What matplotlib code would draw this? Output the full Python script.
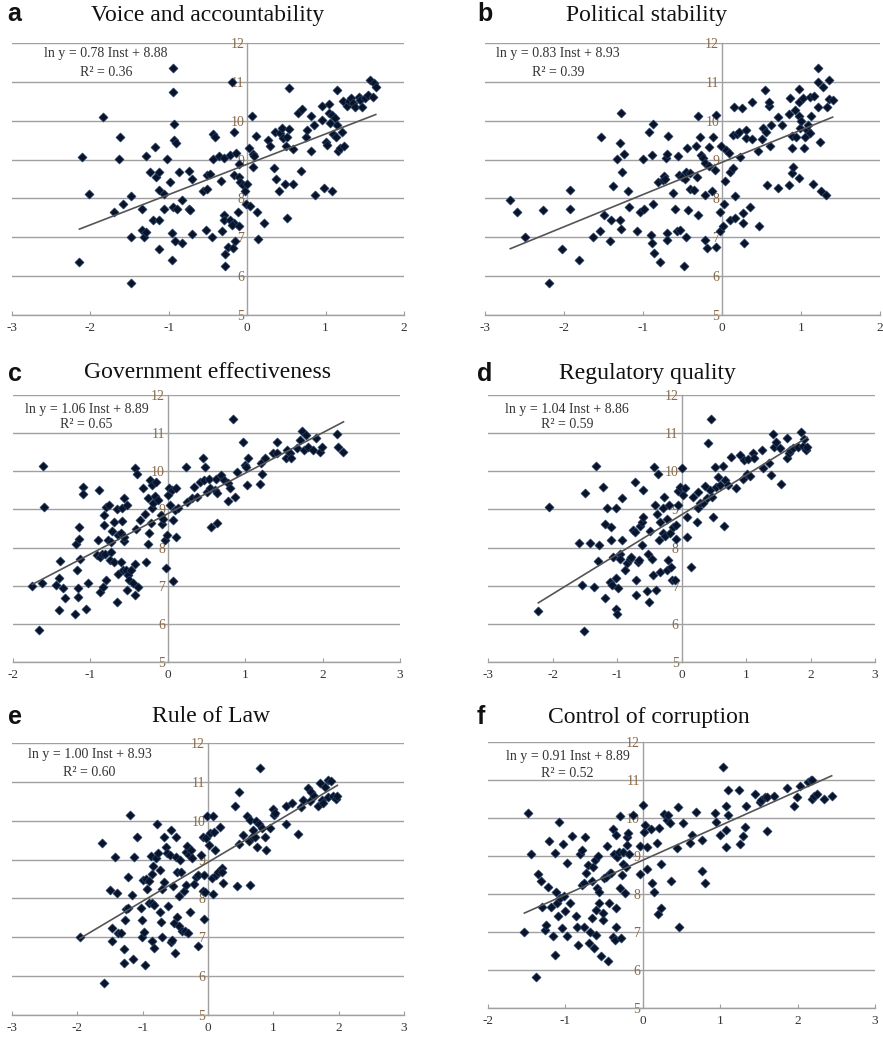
import matplotlib
matplotlib.use("Agg")
import matplotlib.pyplot as plt

plt.rcParams["axes.unicode_minus"] = False

# ---- data (Inst score, ln GDP per capita) ----
a_x = [-2.14, -2.11, -2.02, -1.84, -1.70, -1.62, -1.59, -1.63, -1.48, -1.48, -1.48, -1.34, -1.34, -1.32,
       -1.29, -1.29, -1.24, -1.20, -1.18, -1.16, -1.12, -1.12, -1.12, -1.12, -1.06, -1.06, -1.02, -0.98,
       -0.96, -0.96, -0.95, -0.95, -0.94, -0.94, -0.91, -0.95, -0.90, -0.92, -0.87, -0.83, -0.83, -0.74,
       -0.74, -0.73, -0.70, -0.71, -0.57, -0.53, -0.51, -0.51, -0.47, -0.45, -0.44, -0.41, -0.43, -0.36,
       -0.34, -0.32, -0.29, -0.29, -0.29, -0.28, -0.28, -0.25, -0.22, -0.22, -0.19, -0.17, -0.17, -0.17,
       -0.20, -0.18, -0.15, -0.14, -0.12, -0.11, -0.10, -0.10, -0.09, -0.05, -0.03, -0.01, 0.00, 0.02,
       0.04, 0.06, 0.07, 0.07, 0.09, 0.11, 0.13, 0.14, 0.22, 0.26, 0.29, 0.34, 0.37, 0.36, 0.40, 0.42,
       0.44, 0.46, 0.48, 0.50, 0.51, 0.51, 0.53, 0.53, 0.58, 0.58, 0.65, 0.70, 0.69, 0.75, 0.76, 0.81,
       0.82, 0.85, 0.87, 0.95, 0.96, 0.98, 1.01, 1.02, 1.04, 1.04, 1.06, 1.08, 1.08, 1.10, 1.12, 1.14,
       1.13, 1.15, 1.16, 1.19, 1.21, 1.22, 1.24, 1.27, 1.30, 1.33, 1.35, 1.38, 1.42, 1.44, 1.46, 1.50,
       1.54, 1.57, 1.60, 1.62, 1.64]
a_y = [6.36, 9.06, 8.12, 10.09, 7.65, 9.57, 7.85, 9.01, 8.07, 7.02, 5.83, 7.72, 7.19, 7.00,
       7.13, 9.10, 8.68, 7.45, 9.33, 8.56, 8.69, 8.22, 7.45, 6.69, 8.12, 7.74, 9.02, 8.43,
       7.10, 6.42, 11.36, 10.75, 9.91, 9.51, 9.42, 7.77, 7.72, 6.91, 8.68, 7.96, 6.85, 8.71,
       7.74, 7.69, 8.49, 7.08, 8.20, 7.19, 8.61, 8.24, 8.63, 7.00, 9.65, 9.58, 9.01, 9.10,
       8.45, 7.16, 9.04, 7.58, 7.45, 6.57, 6.27, 6.76, 7.45, 9.12, 10.99, 9.72, 8.61, 7.38,
       7.32, 6.72, 6.91, 9.16, 7.64, 8.56, 7.29, 8.88, 8.41, 8.35, 8.18, 7.86, 8.38, 9.31,
       7.81, 10.11, 9.15, 8.80, 9.08, 9.61, 7.64, 6.95, 7.38, 9.51, 9.34, 8.78, 8.49, 9.72, 8.18, 9.68,
       9.81, 9.55, 8.38, 9.36, 7.49, 9.58, 10.84, 9.78, 9.27, 8.38, 10.20, 10.30, 8.71, 9.58, 9.77, 9.23,
       10.11, 9.90, 8.09, 10.37, 10.02, 8.27, 9.46, 9.38, 10.20, 10.44, 9.94, 8.18, 10.15, 9.66, 10.07, 9.90,
       9.58, 10.78, 9.23, 9.29, 9.72, 10.50, 9.34, 10.38, 10.50, 10.58, 10.45, 10.35, 10.62, 10.54, 10.35, 10.58,
       10.67, 11.05, 10.62, 10.97, 10.87]

b_x = [-2.68, -2.59, -2.49, -2.27, -2.19, -2.02, -1.93, -1.92, -1.81, -1.63, -1.54, -1.53, -1.49, -1.42,
       -1.40, -1.38, -1.33, -1.29, -1.29, -1.28, -1.28, -1.27, -1.24, -1.19, -1.18, -1.08, -1.04, -1.00,
       -0.99, -0.92, -0.90, -0.89, -0.88, -0.87, -0.87, -0.86, -0.81, -0.78, -0.75, -0.73, -0.72, -0.71,
       -0.70, -0.70, -0.69, -0.68, -0.62, -0.60, -0.57, -0.56, -0.54, -0.53, -0.51, -0.48, -0.47, -0.46,
       -0.45, -0.44, -0.43, -0.41, -0.40, -0.36, -0.33, -0.32, -0.30, -0.30, -0.28, -0.26, -0.24, -0.22,
       -0.22, -0.21, -0.19, -0.17, -0.16, -0.13, -0.11, -0.09, -0.08, -0.07, -0.03, -0.03, -0.01, 0.01,
       0.03, 0.04, 0.05, 0.09, 0.10, 0.10, 0.14, 0.14, 0.15, 0.16, 0.17, 0.19, 0.21, 0.23, 0.25, 0.26,
       0.27, 0.28, 0.30, 0.31, 0.35, 0.38, 0.38, 0.45, 0.47, 0.50, 0.52, 0.54, 0.56, 0.57, 0.59, 0.60,
       0.61, 0.62, 0.71, 0.71, 0.76, 0.85, 0.85, 0.86, 0.88, 0.88, 0.89, 0.90, 0.92, 0.94, 0.97, 0.97,
       0.97, 0.98, 0.99, 1.00, 1.03, 1.04, 1.05, 1.08, 1.09, 1.11, 1.11, 1.13, 1.15, 1.16, 1.21, 1.21,
       1.22, 1.24, 1.25, 1.28, 1.32, 1.33, 1.35, 1.36, 1.40]
b_y = [7.96, 7.66, 7.02, 7.69, 5.83, 6.69, 8.22, 7.73, 6.42, 7.00, 7.15, 9.58, 7.58, 6.91,
       7.45, 8.32, 9.01, 9.42, 7.45, 10.20, 7.21, 8.69, 9.15, 8.18, 7.77, 7.16, 7.66, 9.01,
       7.72, 9.72, 7.06, 9.12, 6.86, 7.86, 9.92, 6.59, 8.41, 6.36, 8.48, 8.58, 8.49, 9.04,
       9.14, 7.10, 6.93, 9.61, 8.14, 7.73, 7.15, 9.10, 8.61, 7.19, 8.56, 6.26, 8.49, 8.68,
       7.00, 9.29, 7.70, 8.65, 8.24, 8.22, 9.35, 8.56, 7.58, 10.11, 9.58, 9.12, 9.04, 6.93,
       8.91, 8.09, 6.72, 9.32, 8.84, 8.18, 9.58, 8.72, 10.15, 6.76, 7.15, 7.64, 9.35, 7.29,
       7.86, 8.44, 9.25, 9.16, 7.45, 8.69, 8.78, 9.62, 10.35, 7.49, 8.06, 9.66, 9.72, 9.07, 10.33, 7.62,
       7.38, 6.86, 9.77, 9.55, 7.77, 9.53, 10.47, 9.23, 7.29, 9.53, 9.81, 10.78, 9.70, 8.35, 10.39, 10.47,
       9.36, 9.90, 10.09, 8.28, 9.90, 10.18, 8.35, 10.58, 9.29, 8.65, 9.61, 8.80, 10.28, 9.58, 10.81, 10.11,
       8.52, 10.47, 9.81, 9.98, 10.58, 9.29, 9.58, 9.77, 9.90, 10.62, 9.68, 10.11, 8.38, 10.64, 11.36, 10.99,
       10.35, 9.44, 8.18, 10.87, 8.09, 10.35, 11.05, 10.56, 10.54]

c_x = [-1.75, -1.66, -1.62, -1.61, -1.60, -1.45, -1.41, -1.39, -1.41, -1.35, -1.33, -1.20, -1.18, -1.17,
       -1.15, -1.15, -1.16, -1.16, -1.13, -1.09, -1.09, -1.06, -1.03, -0.90, -0.92, -0.89, -0.88, -0.88,
       -0.85, -0.84, -0.83, -0.82, -0.81, -0.80, -0.80, -0.77, -0.76, -0.75, -0.74, -0.73, -0.72, -0.70,
       -0.69, -0.66, -0.66, -0.64, -0.64, -0.61, -0.60, -0.59, -0.59, -0.58, -0.57, -0.56, -0.56, -0.54,
       -0.53, -0.53, -0.51, -0.50, -0.47, -0.45, -0.43, -0.43, -0.42, -0.41, -0.40, -0.38, -0.36, -0.32,
       -0.30, -0.28, -0.26, -0.25, -0.24, -0.23, -0.22, -0.21, -0.20, -0.19, -0.17, -0.15, -0.13, -0.09,
       -0.08, -0.06, -0.03, -0.02, -0.01, 0.00, 0.02, 0.03, 0.05, 0.07, 0.07, 0.09, 0.10, 0.11, 0.13, 0.24,
       0.25, 0.31, 0.34, 0.38, 0.41, 0.46, 0.47, 0.48, 0.50, 0.53, 0.56, 0.55, 0.61, 0.63, 0.62, 0.64,
       0.69, 0.72, 0.78, 0.78, 0.80, 0.84, 0.87, 0.89, 0.97, 1.00, 1.01, 1.02, 1.04, 1.19, 1.21, 1.22,
       1.25, 1.36, 1.41, 1.41, 1.53, 1.54, 1.58, 1.59, 1.67, 1.71, 1.74, 1.76, 1.78, 1.81, 1.88, 1.91,
       1.96, 1.99, 2.18, 2.20, 2.27]
c_y = [6.99, 5.83, 7.06, 10.15, 9.07, 7.01, 7.21, 7.65, 6.36, 6.93, 6.68, 6.27, 8.09, 7.42,
       8.22, 8.54, 6.93, 6.71, 7.69, 9.58, 9.40, 6.40, 7.07, 8.21, 7.80, 9.51, 6.84, 7.76,
       7.84, 6.97, 8.59, 8.85, 7.84, 9.07, 7.14, 8.19, 9.11, 7.67, 7.89, 8.15, 8.44, 7.63,
       8.68, 6.58, 9.01, 8.33, 7.30, 7.63, 8.37, 8.70, 9.03, 7.41, 8.17, 9.29, 8.28, 7.42,
       6.88, 9.11, 7.28, 7.16, 7.41, 7.07, 7.58, 6.75, 10.08, 8.50, 9.94, 6.97, 8.72, 9.55,
       8.89, 7.63, 8.09, 9.29, 8.39, 9.77, 8.65, 9.03, 9.64, 9.16, 9.35, 9.72, 9.24, 8.85,
       8.63, 8.74, 8.19, 7.47, 8.33, 9.37, 9.55, 9.11, 9.52, 7.13, 8.72, 8.98, 9.55, 8.28, 9.03, 10.10,
       9.20, 9.29, 9.59, 9.33, 9.72, 10.36, 9.77, 10.12, 9.46, 9.79, 8.54, 9.55, 9.51, 8.65, 9.81, 9.42,
       9.90, 9.77, 9.70, 9.23, 9.55, 11.37, 9.33, 9.99, 10.76, 10.16, 10.10, 9.64, 10.34, 9.66, 10.21, 9.93,
       10.34, 10.47, 10.78, 10.47, 10.34, 10.57, 10.49, 10.36, 10.60, 10.82, 11.06, 10.57, 10.95, 10.64, 10.56, 10.86,
       10.51, 10.64, 10.98, 10.63, 10.51]

d_x = [-2.22, -2.05, -1.59, -1.54, -1.51, -1.50, -1.42, -1.36, -1.32, -1.28, -1.29, -1.22, -1.18, -1.18,
       -1.16, -1.11, -1.10, -1.09, -1.07, -1.06, -1.02, -1.02, -1.01, -1.00, -0.98, -0.96, -0.95, -0.93,
       -0.92, -0.88, -0.85, -0.80, -0.78, -0.75, -0.72, -0.72, -0.71, -0.70, -0.68, -0.66, -0.65, -0.62,
       -0.61, -0.59, -0.59, -0.53, -0.52, -0.50, -0.49, -0.46, -0.44, -0.43, -0.41, -0.40, -0.38, -0.36,
       -0.35, -0.34, -0.33, -0.29, -0.28, -0.27, -0.26, -0.23, -0.22, -0.21, -0.19, -0.18, -0.17, -0.14,
       -0.13, -0.10, -0.09, -0.08, -0.05, -0.05, -0.02, 0.00, 0.02, 0.05, 0.08, 0.09, 0.14, 0.18, 0.24,
       0.26, 0.26, 0.29, 0.34, 0.36, 0.39, 0.41, 0.44, 0.45, 0.47, 0.49, 0.52, 0.54, 0.57, 0.59, 0.65,
       0.66, 0.67, 0.72, 0.77, 0.85, 0.91, 0.96, 0.97, 1.01, 1.03, 1.06, 1.11, 1.12, 1.25, 1.26, 1.36,
       1.39, 1.42, 1.43, 1.47, 1.53, 1.54, 1.63, 1.63, 1.66, 1.68, 1.73, 1.81, 1.86, 1.88, 1.90, 1.93,
       1.95]
d_y = [6.34, 9.07, 8.13, 7.01, 5.81, 9.42, 8.13, 6.97, 10.15, 8.08, 7.65, 9.58, 6.68, 8.63,
       9.03, 7.10, 8.21, 8.54, 7.01, 7.76, 7.19, 9.03, 6.40, 6.27, 6.93, 7.84, 7.71, 8.19,
       9.29, 7.42, 7.60, 7.69, 7.76, 8.47, 9.72, 8.41, 7.14, 6.75, 7.63, 7.67, 8.56, 8.68,
       8.06, 9.51, 8.81, 6.86, 7.84, 6.58, 8.44, 7.71, 7.28, 10.12, 9.11, 6.88, 8.89, 9.94,
       8.21, 8.68, 7.37, 8.39, 9.03, 9.33, 8.30, 7.41, 8.74, 7.67, 9.11, 8.37, 7.49, 7.14,
       8.54, 7.14, 8.22, 8.58, 9.11, 9.49, 9.59, 10.08, 9.37, 9.57, 8.28, 8.81, 7.48, 9.33, 8.68,
       9.46, 9.03, 9.18, 9.16, 9.61, 9.29, 10.75, 9.52, 11.36, 9.33, 8.79, 10.10, 9.59, 9.86, 9.64, 10.14,
       8.56, 9.77, 9.64, 10.38, 9.57, 10.43, 9.79, 10.29, 9.94, 10.31, 9.87, 10.47, 10.34, 10.56, 10.08, 10.21,
       9.90, 10.99, 10.64, 10.78, 10.60, 9.66, 10.86, 10.36, 10.49, 10.56, 10.60, 10.64, 11.04, 10.66, 10.84, 10.56,
       10.64]

e_x = [-1.96, -1.63, -1.59, -1.50, -1.47, -1.47, -1.42, -1.40, -1.38, -1.33, -1.29, -1.29, -1.27, -1.25,
       -1.23, -1.22, -1.20, -1.17, -1.15, -1.14, -1.08, -1.03, -1.01, -1.01, -1.00, -0.98, -0.96, -0.95,
       -0.93, -0.91, -0.90, -0.88, -0.86, -0.86, -0.85, -0.84, -0.83, -0.83, -0.80, -0.78, -0.76, -0.74,
       -0.73, -0.72, -0.71, -0.70, -0.68, -0.67, -0.64, -0.63, -0.61, -0.58, -0.57, -0.57, -0.55, -0.53,
       -0.52, -0.50, -0.49, -0.49, -0.48, -0.47, -0.45, -0.44, -0.43, -0.42, -0.40, -0.37, -0.35, -0.34,
       -0.33, -0.32, -0.30, -0.29, -0.28, -0.26, -0.25, -0.22, -0.18, -0.16, -0.15, -0.10, -0.08, -0.07,
       -0.06, -0.06, -0.05, -0.03, -0.01, 0.01, 0.03, 0.06, 0.07, 0.08, 0.09, 0.11, 0.13, 0.16, 0.18,
       0.21, 0.22, 0.23, 0.41, 0.45, 0.48, 0.48, 0.53, 0.59, 0.62, 0.64, 0.65, 0.67, 0.69, 0.72, 0.74,
       0.75, 0.78, 0.79, 0.82, 0.87, 0.89, 0.95, 1.00, 1.01, 1.02, 1.19, 1.20, 1.29, 1.37, 1.43, 1.46,
       1.53, 1.56, 1.58, 1.63, 1.69, 1.71, 1.74, 1.76, 1.79, 1.83, 1.84, 1.89, 1.92, 1.96, 1.98]
e_y = [7.02, 9.42, 5.83, 8.22, 7.23, 6.91, 9.07, 8.14, 7.10, 7.10, 6.69, 6.35, 7.45, 7.72,
       8.55, 7.75, 10.15, 8.10, 6.44, 9.06, 9.57, 7.75, 7.45, 7.00, 8.48, 7.14, 6.29, 8.50,
       8.24, 7.89, 8.44, 9.08, 8.63, 7.88, 6.91, 8.84, 7.84, 6.72, 9.03, 9.92, 9.16, 8.73,
       7.64, 7.40, 8.24, 7.00, 9.59, 8.41, 9.33, 9.16, 7.80, 9.12, 6.89, 9.75, 6.93, 8.32,
       7.36, 6.59, 9.07, 9.59, 8.69, 7.53, 8.07, 7.28, 8.99, 8.69, 7.15, 8.19, 7.15, 9.20,
       8.34, 9.35, 7.12, 9.12, 7.64, 9.25, 9.03, 8.36, 8.56, 6.78, 8.60, 9.12, 9.58, 8.20,
       7.46, 8.60, 8.16, 9.55, 10.13, 9.38, 9.68, 8.52, 10.11, 8.12, 9.70, 9.25, 8.61, 8.69, 9.84,
       8.78, 8.69, 8.39, 10.37, 8.31, 9.40, 10.75, 9.64, 10.13, 9.47, 10.02, 8.35, 9.59, 9.77, 9.59, 9.98,
       9.33, 9.92, 11.36, 9.80, 9.59, 9.25, 9.80, 10.30, 10.15, 10.19, 9.92, 10.37, 10.45, 9.66, 10.35, 10.54,
       10.84, 10.50, 10.75, 10.63, 10.37, 10.97, 10.54, 10.45, 10.88, 11.06, 10.61, 11.01, 10.64, 10.56, 10.64]

f_x = [-1.53, -1.48, -1.45, -1.38, -1.36, -1.32, -1.30, -1.27, -1.25, -1.23, -1.21, -1.18, -1.16, -1.14,
       -1.13, -1.12, -1.11, -1.09, -1.08, -1.07, -1.05, -1.03, -1.02, -1.00, -0.98, -0.98, -0.94, -0.91,
       -0.86, -0.85, -0.84, -0.81, -0.79, -0.78, -0.76, -0.76, -0.75, -0.73, -0.71, -0.69, -0.68, -0.66,
       -0.65, -0.64, -0.63, -0.62, -0.61, -0.60, -0.59, -0.58, -0.56, -0.56, -0.54, -0.52, -0.51, -0.50,
       -0.47, -0.46, -0.45, -0.44, -0.43, -0.41, -0.39, -0.38, -0.37, -0.36, -0.35, -0.35, -0.34, -0.33,
       -0.31, -0.30, -0.29, -0.28, -0.27, -0.26, -0.25, -0.23, -0.22, -0.21, -0.20, -0.19, -0.18, -0.13,
       -0.03, -0.03, 0.00, 0.01, 0.03, 0.05, 0.06, 0.11, 0.12, 0.15, 0.18, 0.19, 0.21, 0.23, 0.24,
       0.27, 0.31, 0.33, 0.35, 0.37, 0.44, 0.46, 0.47, 0.52, 0.61, 0.64, 0.69, 0.76, 0.76, 0.81, 0.93,
       0.94, 1.00, 1.04, 1.07, 1.07, 1.08, 1.10, 1.10, 1.24, 1.25, 1.29, 1.32, 1.33, 1.45, 1.52, 1.53,
       1.58, 1.60, 1.60, 1.70, 1.86, 1.95, 1.99, 2.03, 2.13, 2.17, 2.18, 2.19, 2.21, 2.25, 2.34, 2.44]
f_y = [7.00, 10.12, 9.04, 5.81, 8.53, 8.35, 7.65, 7.06, 7.19, 8.19, 9.40, 7.67, 6.90, 9.09,
       6.40, 8.04, 7.76, 7.41, 9.90, 7.89, 7.10, 9.31, 7.95, 7.54, 8.82, 6.90, 7.76, 9.52,
       7.41, 7.14, 6.66, 9.04, 9.17, 8.24, 8.28, 7.14, 9.50, 8.56, 8.76, 6.71, 6.99, 7.36,
       8.35, 8.72, 6.58, 8.89, 7.58, 6.93, 8.15, 8.99, 8.06, 7.76, 6.36, 7.32, 7.50, 8.41,
       8.46, 9.26, 6.25, 7.76, 8.54, 8.56, 6.88, 9.70, 9.04, 6.79, 7.14, 7.62, 9.55, 8.98,
       9.11, 8.15, 10.05, 6.84, 8.50, 9.11, 8.80, 8.02, 8.72, 9.29, 9.50, 9.61, 9.06, 10.08,
       8.53, 9.26, 10.34, 9.64, 9.81, 9.24, 8.65, 9.70, 8.30, 8.06, 9.33, 7.48, 9.75, 8.79, 7.63,
       10.10, 9.94, 10.07, 9.87, 8.35, 9.20, 10.29, 7.13, 9.87, 9.35, 9.55, 10.16, 9.43, 8.61, 8.28, 10.14,
       9.90, 9.55, 11.33, 10.31, 9.68, 9.23, 10.73, 10.08, 10.75, 9.31, 9.52, 9.77, 10.31, 10.63, 10.43, 10.47,
       10.54, 9.66, 10.56, 10.57, 10.80, 10.31, 10.54, 10.84, 10.95, 10.99, 10.49, 11.01, 10.57, 10.63, 10.51, 10.57]

letters = ["a", "b", "c", "d", "e", "f"]
titles = ["Voice and accountability", "Political stability", "Government effectiveness",
          "Regulatory quality", "Rule of Law", "Control of corruption"]
slopes = [0.78, 0.83, 1.06, 1.04, 1.00, 0.91]
intercepts = [8.88, 8.93, 8.89, 8.86, 8.93, 8.89]
r2 = [0.36, 0.39, 0.65, 0.59, 0.60, 0.52]
x_ranges = [(-3, 2), (-3, 2), (-2, 3), (-3, 3), (-3, 3), (-2, 3)]
xs = [a_x, b_x, c_x, d_x, e_x, f_x]
ys = [a_y, b_y, c_y, d_y, e_y, f_y]

# ---- layout in pixels (left, right, top, bottom of the plot area) ----
W, H = 883, 1038
boxes = [(12, 404, 43, 315), (485, 880, 43, 315),
         (13, 400, 395, 662), (488, 875, 395, 662),
         (12, 404, 743, 1015), (488, 875, 742, 1008)]
title_pos = [(208, 15), (647, 15), (208, 373), (647, 373), (211, 717), (649, 717)]
letter_pos = [(14, 14), (485, 14), (15, 374), (485, 374), (15, 717), (481, 717)]
# equation label: x centre, y of first and second line (axes fractions)
eq_pos = [(0.24, 0.96, 0.893), (0.185, 0.96, 0.893), (0.19, 0.944, 0.888),
          (0.204, 0.944, 0.888), (0.198, 0.956, 0.893), (0.206, 0.944, 0.883)]

serif = "Liberation Serif"
grid_col = "#a0a0a0"

fig = plt.figure(figsize=(W / 100, H / 100), dpi=100)

for i in range(6):
    l, r, t, b = boxes[i]
    ax = fig.add_axes([l / W, 1 - b / H, (r - l) / W, (b - t) / H])
    x0, x1 = x_ranges[i]
    ax.set_xlim(x0, x1)
    ax.set_ylim(5, 12)

    ax.scatter(xs[i], ys[i], marker="D", s=22, color="#0a1428",
               edgecolors="#2c4c7c", linewidths=0.4, zorder=3)
    lo, hi = min(xs[i]), max(xs[i])
    ax.plot([lo, hi], [slopes[i] * lo + intercepts[i], slopes[i] * hi + intercepts[i]],
            color="#555555", lw=1.2, zorder=4)

    # Excel-like axes: horizontal grid, vertical axis through zero
    for s in ["top", "right"]:
        ax.spines[s].set_visible(False)
    ax.spines["left"].set_position(("data", 0))
    ax.spines["left"].set_color(grid_col)
    ax.spines["bottom"].set_color(grid_col)
    ax.spines["left"].set_linewidth(1)
    ax.spines["bottom"].set_linewidth(1)
    ax.set_yticks(range(5, 13))
    ax.set_xticks(range(x0, x1 + 1))
    ax.yaxis.grid(True, color=grid_col, lw=1)
    ax.set_axisbelow(True)
    ax.tick_params(axis="y", length=0, pad=2, labelsize=10, labelcolor="#8a6a48")
    ax.tick_params(axis="x", direction="in", length=3, color=grid_col, pad=5,
                   labelsize=9.5, labelcolor="#333333")
    for lab in ax.get_xticklabels() + ax.get_yticklabels():
        lab.set_family(serif)

    ex, ey1, ey2 = eq_pos[i]
    ax.text(ex, ey1, f"ln y = {slopes[i]:.2f} Inst + {intercepts[i]:.2f}",
            transform=ax.transAxes, ha="center", va="center", family=serif,
            fontsize=10, color="#333333", zorder=5)
    ax.text(ex, ey2, f"R² = {r2[i]:.2f}",
            transform=ax.transAxes, ha="center", va="center", family=serif,
            fontsize=10, color="#333333", zorder=5)

    tx, ty = title_pos[i]
    fig.text(tx / W, 1 - ty / H, titles[i], ha="center", va="center",
             family=serif, fontsize=17, color="#111111")
    lx, ly = letter_pos[i]
    fig.text(lx / W, 1 - ly / H, letters[i], ha="center", va="center",
             family="Liberation Sans", fontweight="bold", fontsize=18, color="#111111")

fig.savefig("out.png", dpi=100)
